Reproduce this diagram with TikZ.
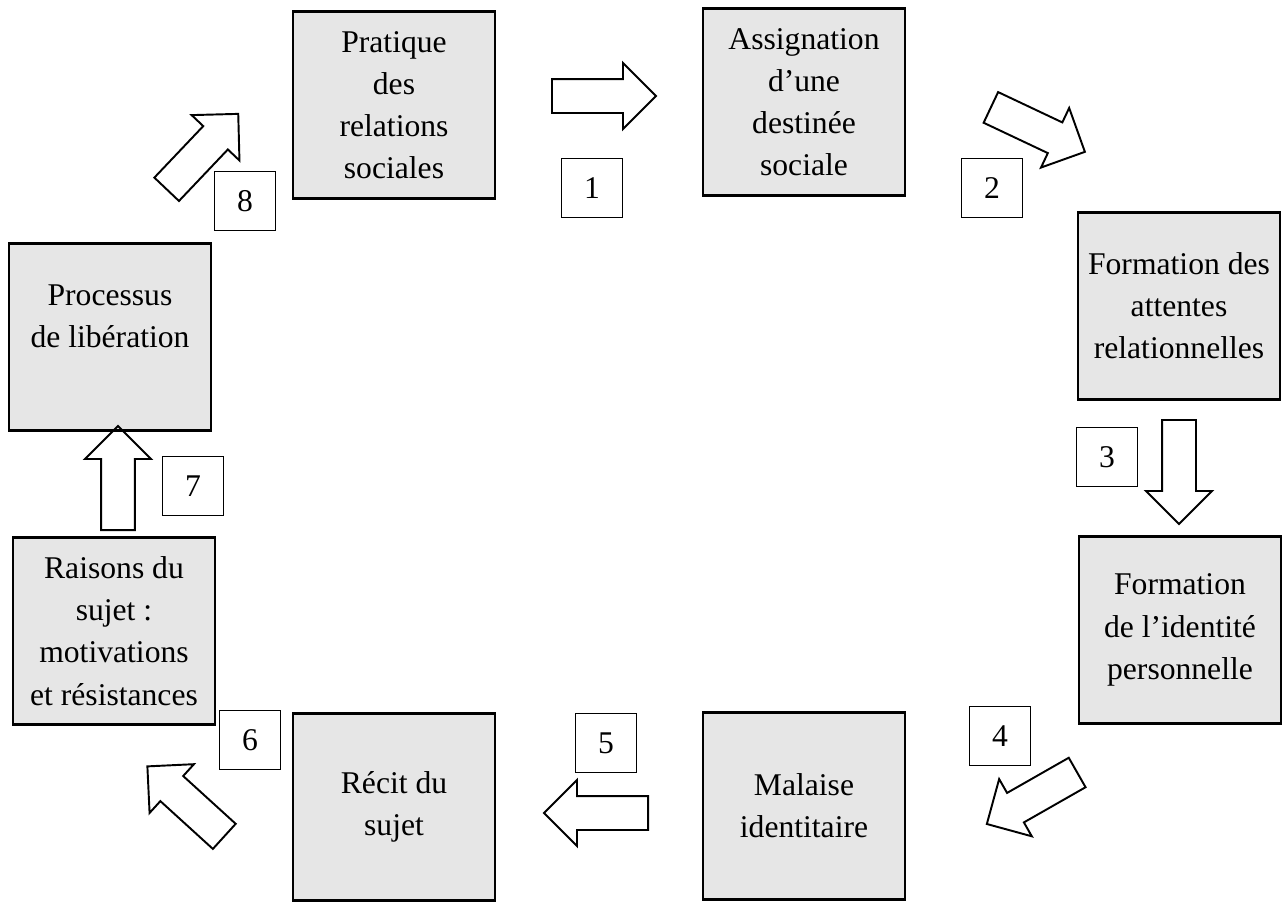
\documentclass[tikz,border=0pt]{standalone}
\usepackage{fontspec}
\setmainfont{Liberation Serif}
\usetikzlibrary{shapes.arrows}
\definecolor{boxgray}{RGB}{230,230,230}

\begin{document}
\begin{tikzpicture}[x=0.02cm, y=-0.02cm,
    stage/.style={draw, fill=boxgray, line width=1.4pt, minimum width=4.04cm, minimum height=3.74cm, align=center, inner sep=2pt, font=\fontsize{18}{24}\selectfont},
    num/.style={draw, line width=0.7pt, minimum width=1.22cm, minimum height=1.18cm, font=\fontsize{18}{24}\selectfont},
    blockarrow/.style={draw, single arrow, single arrow head extend=0.32cm, inner xsep=0pt, inner ysep=0.32cm, minimum height=2.08cm, line width=1.1pt, anchor=tail}
  ]
  \useasboundingbox (0,0) rectangle (1285,903);

  \node[stage] (pratique) at (394,105) {Pratique\\des\\relations\\sociales};
  \node[stage] (assignation) at (804,102) {Assignation\\d’une\\destinée\\sociale};
  \node[stage] (attentes) at (1179,306) {Formation des\\attentes\\relationnelles};
  \node[stage] (identite) at (1180,630) {Formation\\de l’identité\\personnelle};
  \node[stage] (malaise) at (804,806) {Malaise\\identitaire};
  \node[stage] (recit) at (394,807) {Récit du\\sujet};
  \node[stage] (raisons) at (114,631) {Raisons du\\sujet :\\motivations\\et résistances};
  \node[stage] (liberation) at (110,337) {Processus\\de libération\\~};

  \node[num] (n1) at (592,188) {1};
  \node[num] (n2) at (992,188) {2};
  \node[num] (n3) at (1107,457) {3};
  \node[num] (n4) at (1000,736) {4};
  \node[num] (n5) at (606,743) {5};
  \node[num] (n6) at (250,740) {6};
  \node[num] (n7) at (193,486) {7};
  \node[num] (n8) at (245,201) {8};

  \node[blockarrow] (a1) at (551,96) {};
  \node[blockarrow, rotate=-25.3] (a2) at (990,107) {};
  \node[blockarrow, rotate=-90] (a3) at (1179,419) {};
  \node[blockarrow, rotate=-150.3] (a4) at (1078,772) {};
  \node[blockarrow, rotate=180] (a5) at (649,813) {};
  \node[blockarrow, rotate=137.7] (a6) at (225,837) {};
  \node[blockarrow, rotate=90] (a7) at (118,531) {};
  \node[blockarrow, rotate=46.5] (a8) at (166,190) {};
\end{tikzpicture}
\end{document}
